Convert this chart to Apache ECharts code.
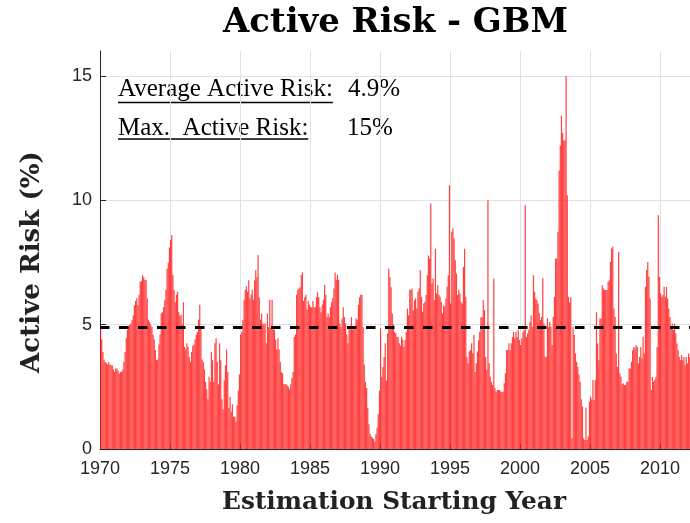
<!DOCTYPE html>
<html>
<head>
<meta charset="utf-8">
<script src="https://cdn.jsdelivr.net/npm/echarts@6/dist/echarts.min.js"></script>
<style>html,body{margin:0;padding:0;background:#fff}#chart{width:690px;height:523px}</style>
</head>
<body>
<div id="chart"></div>
<script>
// ---- data (monthly active risk, %, starting Jan 1970) ----
const startYear = 1970;
const monthsPerYear = 12;
const activeRisk = [
  4.8,4.4,3.9,3.6,3.5,3.45,3.4,3.5,3.4,3.37,
  3.37,3.2,3.1,3.24,3.24,3.15,3.04,3.1,3.1,3.2,
  3.5,3.9,4.46,4.8,4.95,5.0,5.05,5.2,5.38,5.78,
  5.95,6.06,5.78,6.2,6.72,6.75,6.99,6.9,6.78,6.8,
  6.06,5.2,5.1,5.0,4.9,4.6,4.4,3.98,3.57,3.6,
  4.2,4.6,5.45,5.5,5.7,5.98,6.4,7.25,7.5,8.1,
  8.4,8.6,7.0,6.4,5.9,6.2,6.32,5.5,5.35,5.4,
  5.0,5.9,4.1,4.0,4.25,4.1,3.7,3.5,3.9,4.15,
  4.2,4.4,4.6,4.7,5.2,5.8,4.9,3.6,3.5,3.2,
  2.7,2.4,2.0,2.9,2.7,3.9,3.57,2.7,4.25,4.45,
  3.5,2.6,4.25,3.57,2.0,1.6,2.75,3.37,4.0,3.1,
  1.66,2.1,1.5,1.8,1.3,1.3,1.1,1.75,2.35,3.0,
  4.6,4.7,5.2,6.0,6.4,6.55,6.32,6.78,6.06,6.2,
  6.4,6.0,6.78,7.2,6.9,7.8,6.1,5.2,5.45,5.05,
  5.0,5.05,4.25,5.45,4.9,6.0,4.85,6.0,4.8,4.8,
  4.4,4.0,4.45,4.0,3.5,3.1,3.04,2.6,2.6,2.6,
  2.55,2.5,2.4,2.6,2.85,3.1,4.5,4.6,6.2,6.4,
  6.45,6.5,7.0,7.1,5.95,6.1,6.2,5.6,5.95,5.8,
  5.7,5.7,5.95,5.7,5.7,6.1,6.3,6.1,5.7,5.5,
  5.8,6.0,6.6,6.2,5.3,5.45,5.3,5.7,5.9,6.06,
  6.45,7.1,6.8,7.0,6.8,5.05,4.9,5.25,5.7,5.3,
  5.05,4.6,4.25,4.85,4.8,5.3,4.8,4.85,4.8,5.25,
  5.2,5.8,6.1,6.2,6.2,4.9,3.4,2.7,2.45,1.66,
  1.0,0.6,0.5,0.45,0.4,0.3,0.6,0.85,1.4,2.35,
  4.85,2.9,3.3,3.7,4.25,2.75,4.65,7.25,6.9,6.5,
  5.45,5.0,4.7,4.65,4.5,4.5,4.25,4.15,4.5,4.4,
  4.1,4.37,4.7,5.65,5.38,6.4,6.4,6.45,5.58,5.98,
  6.05,5.65,6.32,6.45,7.19,6.12,5.52,5.85,5.92,6.19,
  6.98,7.78,7.65,9.87,6.65,6.85,5.98,8.05,6.25,6.58,
  6.19,6.12,5.92,5.45,5.78,5.72,6.05,6.52,6.98,10.6,
  5.85,8.73,8.86,8.46,7.59,7.05,6.19,6.4,6.25,5.92,
  5.85,7.32,8.05,6.12,3.7,3.45,3.92,3.98,4.25,3.85,
  4.58,3.1,3.45,3.92,4.37,4.71,5.3,5.3,5.98,5.58,
  3.7,3.18,10.0,3.45,2.91,2.7,2.57,6.85,2.44,2.3,
  2.37,2.37,2.37,2.3,2.3,2.3,2.64,3.04,3.98,3.98,
  4.25,3.98,4.25,4.5,4.71,4.44,4.71,4.5,4.78,4.38,
  4.18,4.44,4.71,4.78,9.8,4.5,4.64,4.78,5.11,5.38,
  4.91,6.99,6.32,6.05,5.98,5.85,5.45,5.18,5.31,6.86,
  5.05,3.71,3.71,5.25,4.91,5.11,4.91,4.18,5.31,6.12,
  7.66,7.66,8.73,11.2,12.2,13.4,12.7,12.4,12.4,15.0,
  10.2,6.12,5.9,6.1,0.43,4.91,4.58,3.84,3.51,3.3,
  3.0,2.7,2.0,1.7,0.43,0.36,1.67,0.36,0.5,1.9,
  2.1,2.0,2.77,1.97,2.78,5.5,4.24,3.57,5.25,5.25,
  6.58,6.45,6.39,6.39,6.39,6.72,6.78,7.52,8.06,8.13,
  5.65,5.31,3.84,3.3,7.92,3.04,2.9,2.6,2.64,2.57,
  2.57,2.7,2.7,3.24,3.24,3.5,3.97,4.1,4.04,4.17,
  4.1,3.44,3.7,4.1,3.64,4.51,3.84,6.52,7.2,7.52,
  6.92,6.05,2.37,2.9,2.7,2.78,2.9,4.1,9.4,6.92,
  6.25,6.12,6.19,6.52,6.12,6.52,6.05,5.65,5.31,4.91,
  5.05,4.78,5.05,4.64,4.24,3.97,3.7,3.57,3.77,3.57,
  3.7,3.37,3.7,3.44,3.84,3.7
];
const averageRisk = 4.9;
const maxRiskText = '15%';
const averageRiskText = '4.9%';
const xTicks = [1970,1975,1980,1985,1990,1995,2000,2005,2010];
const yTicks = [0,5,10,15];
const xRange = [1970, 2012.14];
const yRange = [0, 16];

const points = activeRisk.map((v, i) => [startYear + (i + 0.5) / monthsPerYear, v]);

// ---- helpers ----
const measureCtx = document.createElement('canvas').getContext('2d');
function fitSize(text, family, weight, targetWidth) {
  measureCtx.font = weight + ' 100px "' + family + '"';
  return 100 * targetWidth / measureCtx.measureText(text).width;
}
const serifBold = 'DejaVu Serif';
const serif = 'Liberation Serif';
const titleSize = fitSize('Active Risk - GBM', serifBold, 'bold', 345);
const yNameSize = fitSize('Active Risk (%)', serifBold, 'bold', 222);
const xNameSize = fitSize('Estimation Starting Year', serifBold, 'bold', 344);
const annSize = fitSize('Average Active Risk:', serif, 'normal', 215);
measureCtx.font = 'normal ' + annSize + 'px "' + serif + '"';
const w1 = measureCtx.measureText('Average Active Risk:').width;
const w2 = measureCtx.measureText('Max.  Active Risk:').width;

const axisColor = '#262626';
const gridColor = '#e2e2e2';
const chart = echarts.init(document.getElementById('chart'), null, {renderer: 'canvas'});
chart.setOption({
  animation: false,
  backgroundColor: '#fff',
  grid: {left: 100, right: 0, top: 51, bottom: 74, containLabel: false, outerBoundsMode: 'none'},
  xAxis: {
    type: 'value', min: xRange[0], max: xRange[1], interval: 5,
    axisLine: {show: true, onZero: false, lineStyle: {color: axisColor, width: 1}},
    axisTick: {show: true, inside: true, length: 5, customValues: xTicks, lineStyle: {color: axisColor}},
    axisLabel: {show: true, customValues: xTicks, color: axisColor, formatter: v => String(Math.round(v)),
      fontFamily: 'Liberation Sans', fontSize: 18, margin: 11},
    splitLine: {show: true, lineStyle: {color: gridColor, width: 1}}
  },
  yAxis: {
    type: 'value', min: yRange[0], max: yRange[1], interval: 5,
    axisLine: {show: true, onZero: false, lineStyle: {color: axisColor, width: 1}},
    axisTick: {show: true, inside: true, length: 6, customValues: yTicks, lineStyle: {color: axisColor}},
    axisLabel: {show: true, customValues: yTicks, color: axisColor, formatter: v => String(Math.round(v)),
      fontFamily: 'Liberation Sans', fontSize: 18, margin: 8},
    splitLine: {show: true, lineStyle: {color: gridColor, width: 1}}
  },
  series: [{
    type: 'bar',
    data: points,
    barWidth: 1.2,
    itemStyle: {color: 'rgba(255,25,25,0.82)'},
    markLine: {
      silent: true, symbol: ['none', 'none'], label: {show: false},
      lineStyle: {color: '#000', width: 3, type: [9.5, 9.5]},
      data: [{yAxis: averageRisk}]
    }
  }],
  graphic: [
    {type: 'text', x: 395.5, y: 23, style: {text: 'Active Risk - GBM', font: 'bold ' + titleSize + 'px "' + serifBold + '"',
      fill: '#000', align: 'center', verticalAlign: 'middle'}},
    {type: 'text', x: 394, y: 503, style: {text: 'Estimation Starting Year', font: 'bold ' + xNameSize + 'px "' + serifBold + '"',
      fill: '#222', align: 'center', verticalAlign: 'middle'}},
    {type: 'text', x: 32, y: 262, rotation: Math.PI / 2, style: {text: 'Active Risk (%)', font: 'bold ' + yNameSize + 'px "' + serifBold + '"',
      fill: '#222', align: 'center', verticalAlign: 'middle'}},
    {type: 'text', x: 118, y: 89, style: {text: 'Average Active Risk:', font: annSize + 'px "' + serif + '"',
      fill: '#000', align: 'left', verticalAlign: 'middle'}},
    {type: 'line', shape: {x1: 118, y1: 102.5, x2: 118 + w1, y2: 102.5}, style: {stroke: '#000', lineWidth: 1.3}},
    {type: 'text', x: 348, y: 89, style: {text: averageRiskText, font: annSize + 'px "' + serif + '"',
      fill: '#000', align: 'left', verticalAlign: 'middle'}},
    {type: 'text', x: 118, y: 128, style: {text: 'Max.  Active Risk:', font: annSize + 'px "' + serif + '"',
      fill: '#000', align: 'left', verticalAlign: 'middle'}},
    {type: 'line', shape: {x1: 118, y1: 139, x2: 118 + w2, y2: 139}, style: {stroke: '#000', lineWidth: 1.3}},
    {type: 'text', x: 347, y: 128, style: {text: maxRiskText, font: annSize + 'px "' + serif + '"',
      fill: '#000', align: 'left', verticalAlign: 'middle'}}
  ]
});
</script>
</body>
</html>
